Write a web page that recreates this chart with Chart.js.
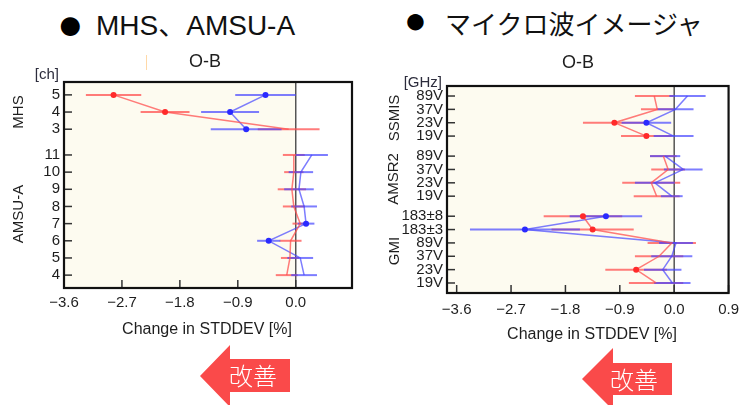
<!DOCTYPE html>
<html><head><meta charset="utf-8">
<script src="https://cdn.jsdelivr.net/npm/chart.js@4.4.1/dist/chart.umd.min.js"></script>
<style>
html,body{margin:0;padding:0;background:#fff;width:747px;height:405px;overflow:hidden;font-family:"Liberation Sans",Arial,sans-serif;}
.abs{position:absolute;white-space:nowrap;}
.head{font-size:28px;color:#111;line-height:28px;}
.jp{font-family:"Liberation Sans","Noto Sans CJK JP",sans-serif;}
.bullet{font-family:"Liberation Sans";font-size:44px;line-height:44px;color:#000;}
.arrowtxt{font-family:"Noto Sans CJK JP",sans-serif;font-size:24px;color:#fff;line-height:24px;font-weight:300;}
</style></head><body>

<div class="abs bullet" style="left:57px;top:2px;">●</div>
<div class="abs head jp" style="left:96px;top:12px;">MHS、AMSU-A</div>
<div class="abs bullet" style="left:404px;top:1px;font-size:38px;line-height:38px;">●</div>
<div class="abs head" style="left:445px;top:10px;font-family:'Noto Sans CJK JP';font-size:26px;line-height:26px;">マイクロ波イメージャ</div>
<div class="abs" style="left:146px;top:55px;width:1px;height:15px;background:#ffd9a8;"></div>

<div class="abs" style="left:0;top:40px;width:370px;height:310px;"><canvas id="c1" width="370" height="310"></canvas></div>
<div class="abs" style="left:370px;top:40px;width:377px;height:310px;"><canvas id="c2" width="377" height="310"></canvas></div>

<svg class="abs" style="left:0;top:0;" width="747" height="405">
  <polygon points="200,376 230,345 230,359 290,359 290,392 230,392 230,407" fill="#fa4a4a"/>
  <polygon points="582,379 613,348 613,363 672,363 672,395 613,395 613,410" fill="#fa4a4a"/>
</svg>
<div class="abs arrowtxt" style="left:229px;top:363px;">改善</div>
<div class="abs arrowtxt" style="left:610px;top:367px;">改善</div>

<script>
// ---------- Left panel: MHS / AMSU-A ----------
const mhsChannels = ['5','4','3'];
const mhsPos = [10.5, 9.5, 8.5];
const mhsRed = [-2.83, -2.03, -0.11];
const mhsRedErr = [0.43, 0.38, 0.48];
const mhsRedDot = [1, 1, 0];
const mhsBlue = [-0.47, -1.02, -0.77];
const mhsBlueErr = [0.47, 0.45, 0.55];
const mhsBlueDot = [1, 1, 1];

const amsuChannels = ['11','10','9','8','7','6','5','4'];
const amsuPos = [7, 6, 5, 4, 3, 2, 1, 0];
const amsuRed = [-0.03, -0.03, -0.06, -0.03, 0.07, -0.08, -0.09, -0.14];
const amsuRedErr = [0.17, 0.15, 0.22, 0.17, 0.12, 0.17, 0.14, 0.17];
const amsuRedDot = [0, 0, 0, 0, 0, 0, 0, 0];
const amsuBlue = [0.25, 0.08, 0.05, 0.13, 0.16, -0.42, 0.07, 0.13];
const amsuBlueErr = [0.25, 0.19, 0.23, 0.2, 0.13, 0.18, 0.2, 0.2];
const amsuBlueDot = [0, 0, 0, 0, 1, 1, 0, 0];

const leftXTicks = [-3.6, -2.7, -1.8, -0.9, 0.0];

// ---------- Right panel: microwave imagers ----------
const ssmisChannels = ['89V','37V','23V','19V'];
const ssmisPos = [14, 13, 12, 11];
const ssmisRed = [-0.33, -0.28, -0.99, -0.46];
const ssmisRedErr = [0.32, 0.27, 0.52, 0.42];
const ssmisRedDot = [0, 0, 1, 1];
const ssmisBlue = [0.22, 0.02, -0.46, -0.01];
const ssmisBlueErr = [0.3, 0.3, 0.41, 0.33];
const ssmisBlueDot = [0, 0, 1, 0];

const amsr2Channels = ['89V','37V','23V','19V'];
const amsr2Pos = [9.5, 8.5, 7.5, 6.5];
const amsr2Red = [-0.18, -0.1, -0.38, -0.29];
const amsr2RedErr = [0.22, 0.28, 0.48, 0.38];
const amsr2RedDot = [0, 0, 0, 0];
const amsr2Blue = [-0.15, 0.15, -0.32, -0.04];
const amsr2BlueErr = [0.25, 0.32, 0.33, 0.18];
const amsr2BlueDot = [0, 0, 0, 0];

const gmiChannels = ['183±8','183±3','89V','37V','23V','19V'];
const gmiPos = [5, 4, 3, 2, 1, 0];
const gmiRed = [-1.51, -1.35, -0.04, -0.25, -0.63, -0.3];
const gmiRedErr = [0.65, 0.68, 0.4, 0.4, 0.51, 0.45];
const gmiRedDot = [1, 1, 0, 0, 1, 0];
const gmiBlue = [-1.13, -2.47, 0.03, -0.04, -0.19, -0.03];
const gmiBlueErr = [0.6, 0.91, 0.28, 0.34, 0.31, 0.3];
const gmiBlueDot = [1, 1, 0, 0, 0, 0];

const rightXTicks = [-3.6, -2.7, -1.8, -0.9, 0.0, 0.9];

// ---------- styles ----------
const RED_LINE = 'rgba(255,80,80,0.75)';
const RED_DOT = '#ff2a2a';
const BLUE_LINE = 'rgba(70,70,255,0.7)';
const BLUE_DOT = '#2a2aff';
const SHADE = '#fdfbf0';
const TXT = '#1e1e1e';

function series(vals, errs, pos, dots, line, dot) {
  return {
    data: vals.map((v, i) => ({x: v, y: pos[i]})),
    err: errs,
    showLine: true,
    borderColor: line,
    borderWidth: 1.5,
    errColor: line,
    pointRadius: dots.map(d => d ? 3 : 0),
    pointBackgroundColor: dot,
    pointBorderWidth: 0,
    pointHoverRadius: 0
  };
}

function fmtX(v) {
  const a = Math.abs(v).toFixed(1);
  return v < -1e-9 ? '\u2212' + a : a;
}

const panelPlugin = {
  id: 'panel',
  beforeDatasetsDraw(chart) {
    const {ctx, chartArea: a, scales: {x, y}} = chart;
    const x0 = x.getPixelForValue(0);
    ctx.save();
    ctx.fillStyle = SHADE;
    ctx.fillRect(a.left, a.top, x0 - a.left, a.bottom - a.top);
    ctx.strokeStyle = '#555';
    ctx.lineWidth = 1.5;
    ctx.beginPath(); ctx.moveTo(x0, a.top); ctx.lineTo(x0, a.bottom); ctx.stroke();
    chart.data.datasets.forEach(ds => {
      ctx.strokeStyle = ds.errColor;
      ctx.lineWidth = 2;
      ds.data.forEach((p, i) => {
        const e = ds.err[i];
        const py = y.getPixelForValue(p.y);
        ctx.beginPath();
        ctx.moveTo(x.getPixelForValue(p.x - e), py);
        ctx.lineTo(x.getPixelForValue(p.x + e), py);
        ctx.stroke();
      });
    });
    ctx.restore();
  },
  afterDatasetsDraw(chart) {
    const {ctx, chartArea: a, scales: {x, y}} = chart;
    ctx.save();
    ctx.strokeStyle = '#333';
    ctx.lineWidth = 1.5;
    x.ticks.forEach(t => {
      const px = x.getPixelForValue(t.value);
      ctx.beginPath(); ctx.moveTo(px, a.bottom); ctx.lineTo(px, a.bottom - 8); ctx.stroke();
    });
    y.ticks.forEach(t => {
      const py = y.getPixelForValue(t.value);
      ctx.beginPath(); ctx.moveTo(a.left, py); ctx.lineTo(a.left + 8, py); ctx.stroke();
    });
    ctx.strokeStyle = '#111';
    ctx.lineWidth = 2.2;
    ctx.strokeRect(a.left, a.top, a.right - a.left, a.bottom - a.top);
    ctx.restore();
  },
  afterDraw(chart) {
    const {ctx} = chart;
    const o = chart.options.plugins.panel;
    ctx.save();
    ctx.fillStyle = TXT;
    ctx.textBaseline = 'middle';
    ctx.textAlign = 'center';
    ctx.font = '18px "Liberation Sans"';
    ctx.fillText('O-B', o.obX, o.obY);
    ctx.font = '16px "Liberation Sans"';
    ctx.fillText('Change in STDDEV [%]', o.titleX, o.titleY);
    ctx.textAlign = 'right';
    ctx.font = '15px "Liberation Sans"';
    ctx.fillStyle = '#2c2c3c';
    ctx.fillText(o.unit, o.unitX, o.unitY);
    ctx.fillStyle = TXT;
    ctx.textAlign = 'center';
    o.groups.forEach(g => {
      ctx.save();
      ctx.translate(g.x, g.y);
      ctx.rotate(-Math.PI / 2);
      ctx.fillText(g.text, 0, 0);
      ctx.restore();
    });
    ctx.restore();
  }
};

function makeChart(id, cfg) {
  const labelMap = new Map();
  cfg.yPos.forEach((p, i) => labelMap.set(p, cfg.yLabels[i]));
  new Chart(document.getElementById(id), {
    type: 'scatter',
    data: {datasets: cfg.datasets},
    plugins: [panelPlugin],
    options: {
      responsive: false,
      animation: false,
      events: [],
      layout: {padding: cfg.padding},
      plugins: {legend: {display: false}, tooltip: {enabled: false}, panel: cfg.panel},
      scales: {
        x: {
          type: 'linear', min: cfg.xMin, max: cfg.xMax,
          grid: {display: false, drawTicks: false}, border: {display: false},
          afterBuildTicks: s => { s.ticks = cfg.xTicks.map(v => ({value: v})); },
          afterFit: s => { s.height = cfg.xHeight; },
          ticks: {padding: cfg.xPad, color: TXT, font: {size: 15, family: 'Liberation Sans'}, maxRotation: 0, autoSkip: false, callback: v => fmtX(v)}
        },
        y: {
          type: 'linear', min: cfg.yMin, max: cfg.yMax,
          grid: {display: false, drawTicks: false}, border: {display: false},
          afterBuildTicks: s => { s.ticks = cfg.yPos.map(v => ({value: v})); },
          afterFit: s => { s.width = cfg.yWidth; },
          ticks: {padding: 4, color: TXT, font: {size: 15, family: 'Liberation Sans'}, autoSkip: false, callback: v => labelMap.get(v)}
        }
      }
    }
  });
}

makeChart('c1', {
  datasets: [
    series(mhsRed, mhsRedErr, mhsPos, mhsRedDot, RED_LINE, RED_DOT),
    series(amsuRed, amsuRedErr, amsuPos, amsuRedDot, RED_LINE, RED_DOT),
    series(mhsBlue, mhsBlueErr, mhsPos, mhsBlueDot, BLUE_LINE, BLUE_DOT),
    series(amsuBlue, amsuBlueErr, amsuPos, amsuBlueDot, BLUE_LINE, BLUE_DOT)
  ],
  yPos: mhsPos.concat(amsuPos),
  yLabels: mhsChannels.concat(amsuChannels),
  xTicks: leftXTicks,
  xMin: -3.6, xMax: 0.874, yMin: -0.75, yMax: 11.25,
  padding: {top: 42, right: 18, left: 0, bottom: 0},
  yWidth: 64, xHeight: 62, xPad: 6,
  panel: {obX: 205, obY: 22, titleX: 207, titleY: 290, unit: '[ch]', unitX: 59, unitY: 35,
    groups: [{text: 'MHS', x: 19, y: 72}, {text: 'AMSU-A', x: 19, y: 174}]}
});

makeChart('c2', {
  datasets: [
    series(ssmisRed, ssmisRedErr, ssmisPos, ssmisRedDot, RED_LINE, RED_DOT),
    series(amsr2Red, amsr2RedErr, amsr2Pos, amsr2RedDot, RED_LINE, RED_DOT),
    series(gmiRed, gmiRedErr, gmiPos, gmiRedDot, RED_LINE, RED_DOT),
    series(ssmisBlue, ssmisBlueErr, ssmisPos, ssmisBlueDot, BLUE_LINE, BLUE_DOT),
    series(amsr2Blue, amsr2BlueErr, amsr2Pos, amsr2BlueDot, BLUE_LINE, BLUE_DOT),
    series(gmiBlue, gmiBlueErr, gmiPos, gmiBlueDot, BLUE_LINE, BLUE_DOT)
  ],
  yPos: ssmisPos.concat(amsr2Pos, gmiPos),
  yLabels: ssmisChannels.concat(amsr2Channels, gmiChannels),
  xTicks: rightXTicks,
  xMin: -3.76, xMax: 0.9, yMin: -0.75, yMax: 14.75,
  padding: {top: 46, right: 11, left: 0, bottom: 0},
  yWidth: 77, xHeight: 57, xPad: 8,
  panel: {obX: 208, obY: 23, titleX: 222, titleY: 295, unit: '[GHz]', unitX: 72, unitY: 43,
    groups: [{text: 'SSMIS', x: 25, y: 78}, {text: 'AMSR2', x: 24, y: 139}, {text: 'GMI', x: 25, y: 211}]}
});
</script>
</body></html>
